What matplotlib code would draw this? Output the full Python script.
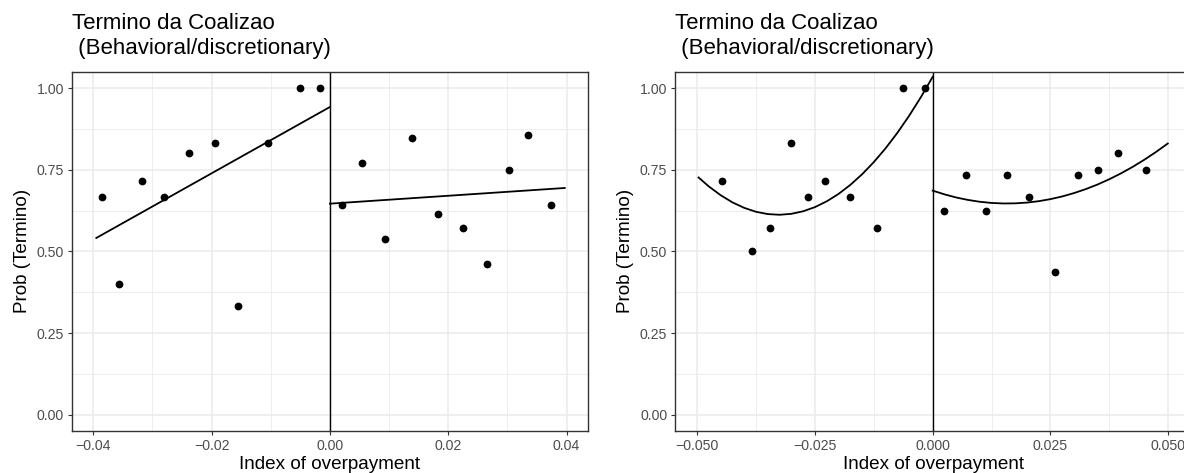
import numpy as np
import matplotlib
matplotlib.use("Agg")
import matplotlib.pyplot as plt
from matplotlib.ticker import MultipleLocator, FixedLocator

plt.rcParams['font.family'] = ['Liberation Sans', 'DejaVu Sans']

# left chart: linear fit
left_x_lo = [-0.0385, -0.0357, -0.0317, -0.0280, -0.0238, -0.0194, -0.0156, -0.0104, -0.0051, -0.0017]
left_y_lo = [0.667, 0.400, 0.714, 0.667, 0.800, 0.833, 0.333, 0.833, 1.000, 1.000]
left_x_hi = [0.0020, 0.0055, 0.0093, 0.0138, 0.0183, 0.0225, 0.0265, 0.0302, 0.0335, 0.0373]
left_y_hi = [0.643, 0.769, 0.538, 0.846, 0.615, 0.571, 0.462, 0.750, 0.857, 0.643]
left_fit_lo_x = [-0.0395, 0.0]
left_fit_lo_y = [0.541, 0.942]
left_fit_hi_x = [0.0, 0.0397]
left_fit_hi_y = [0.646, 0.694]
left_xticks = [-0.04, -0.02, 0.00, 0.02, 0.04]
left_xlabels = ['\u22120.04', '\u22120.02', '0.00', '0.02', '0.04']

# right chart: quadratic fit
right_x_lo = [-0.0447, -0.0383, -0.0346, -0.0301, -0.0264, -0.0228, -0.0175, -0.0118, -0.0063, -0.0017]
right_y_lo = [0.714, 0.500, 0.571, 0.833, 0.667, 0.714, 0.667, 0.571, 1.000, 1.000]
right_x_hi = [0.0025, 0.0070, 0.0113, 0.0158, 0.0205, 0.0259, 0.0309, 0.0351, 0.0393, 0.0453]
right_y_hi = [0.625, 0.733, 0.625, 0.733, 0.667, 0.4375, 0.733, 0.750, 0.800, 0.750]
right_fit_lo_x = [-0.0497, -0.0475, -0.045, -0.0425, -0.040, -0.0375, -0.035, -0.0325, -0.030, -0.0275,
                  -0.025, -0.0225, -0.020, -0.0175, -0.015, -0.0125, -0.010, -0.0075, -0.005, -0.0025, 0.0]
right_fit_lo_y = [0.7262, 0.6985, 0.6718, 0.6499, 0.6331, 0.6211, 0.6141, 0.6120, 0.6149, 0.6227,
                  0.6354, 0.6531, 0.6757, 0.7033, 0.7358, 0.7732, 0.8155, 0.8628, 0.9151, 0.9723, 1.0344]
right_fit_hi_x = [0.0, 0.0025, 0.005, 0.0075, 0.010, 0.0125, 0.015, 0.0175, 0.020, 0.0225, 0.025,
                  0.0275, 0.030, 0.0325, 0.035, 0.0375, 0.040, 0.0425, 0.045, 0.0475, 0.0499]
right_fit_hi_y = [0.6859, 0.6745, 0.6649, 0.6574, 0.6518, 0.6482, 0.6466, 0.6470, 0.6493, 0.6536, 0.6599,
                  0.6681, 0.6784, 0.6906, 0.7047, 0.7209, 0.7390, 0.7591, 0.7812, 0.8053, 0.8302]
right_xticks = [-0.050, -0.025, 0.000, 0.025, 0.050]
right_xlabels = ['\u22120.050', '\u22120.025', '0.000', '0.025', '0.050']

y_ticks = [0.00, 0.25, 0.50, 0.75, 1.00]
y_labels = ['0.00', '0.25', '0.50', '0.75', '1.00']

title = "Termino da Coalizao\n (Behavioral/discretionary)"


def draw_panel(ax, x_lo, y_lo, x_hi, y_hi, fits, xticks, xlabels, xlim, minor_step):
    ax.set_facecolor('white')
    ax.set_xlim(*xlim)
    ax.set_ylim(-0.05, 1.05)
    ax.set_xticks(xticks)
    ax.set_xticklabels(xlabels)
    ax.set_yticks(y_ticks)
    ax.set_yticklabels(y_labels)
    ax.xaxis.set_minor_locator(MultipleLocator(minor_step))
    ax.yaxis.set_minor_locator(FixedLocator([0.125, 0.375, 0.625, 0.875]))
    ax.grid(which='major', color='#EBEBEB', linewidth=1.1)
    ax.grid(which='minor', color='#EBEBEB', linewidth=0.6)
    ax.set_axisbelow(True)
    ax.tick_params(which='minor', length=0)
    ax.tick_params(which='major', length=3.2, width=0.8, color='#333333',
                   labelcolor='#4D4D4D', labelsize=10.2, pad=2.4)
    for s in ax.spines.values():
        s.set_color('#333333')
        s.set_linewidth(1.0)

    ax.axvline(0, color='black', linewidth=1.0)
    for fx, fy in fits:
        ax.plot(fx, fy, color='black', linewidth=1.3, solid_joinstyle='round')
    ax.plot(x_lo, y_lo, 'o', color='black', markersize=5.6, markeredgewidth=0)
    ax.plot(x_hi, y_hi, 'o', color='black', markersize=5.6, markeredgewidth=0)

    ax.set_title(title, loc='left', fontsize=16, pad=13, linespacing=1.25)
    ax.set_xlabel('Index of overpayment', fontsize=13.6, labelpad=2)
    ax.set_ylabel('Prob (Termino)', fontsize=13.6, labelpad=4)


fig = plt.figure(figsize=(11.84, 4.73), dpi=100)
ax1 = fig.add_axes([0.0606, 0.0888, 0.4361, 0.7596])
ax2 = fig.add_axes([0.5701, 0.0888, 0.4361, 0.7596])

draw_panel(ax1, left_x_lo, left_y_lo, left_x_hi, left_y_hi,
           [(left_fit_lo_x, left_fit_lo_y), (left_fit_hi_x, left_fit_hi_y)],
           left_xticks, left_xlabels, (-0.04365, 0.04365), 0.01)
draw_panel(ax2, right_x_lo, right_y_lo, right_x_hi, right_y_hi,
           [(right_fit_lo_x, right_fit_lo_y), (right_fit_hi_x, right_fit_hi_y)],
           right_xticks, right_xlabels, (-0.0547, 0.0549), 0.0125)

fig.savefig('out.png', dpi=100, facecolor='white')
